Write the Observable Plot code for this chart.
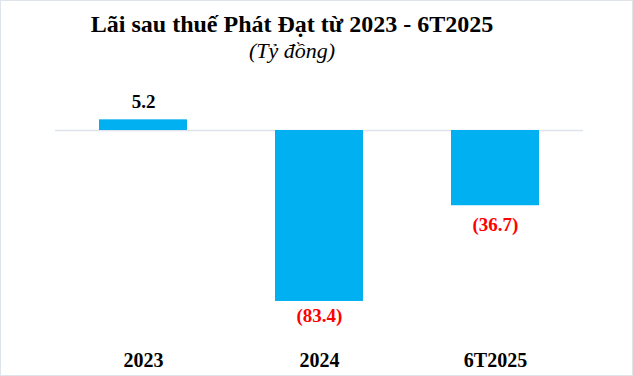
<!DOCTYPE html>
<html>
<head>
<meta charset="utf-8">
<script src="https://cdn.jsdelivr.net/npm/d3@7"></script>
<script src="https://cdn.jsdelivr.net/npm/@observablehq/plot@0.6"></script>
<style>
  html, body { margin: 0; padding: 0; background: #fff; }
  #wrap { position: relative; width: 633px; height: 376px; box-sizing: border-box; border: 1px solid #dfe3ea; overflow: hidden; font-family: "Liberation Serif", Tinos, "Times New Roman", "DejaVu Serif", serif; }
  #head { height: 71px; position: relative; }
  #title { position: absolute; left: 0; width: 582px; top: 9px; text-align: center; font-weight: bold; font-size: 24px; line-height: 28px; color: #000; }
  #sub { position: absolute; left: 0; width: 582px; top: 37px; text-align: center; font-style: italic; font-size: 22px; line-height: 26px; color: #000; }
  svg { display: block; }
  svg text { font-family: "Liberation Serif", Tinos, "Times New Roman", "DejaVu Serif", serif; }
</style>
</head>
<body>
<div id="wrap">
  <div id="head">
    <div id="title">Lãi sau thuế Phát Đạt từ 2023 - 6T2025</div>
    <div id="sub">(Tỷ đồng)</div>
  </div>
  <div id="chart"></div>
</div>
<script>
const categories = ["2023", "2024", "6T2025"];
const values = [5.2, -83.4, -36.7];
const labels = ["5.2", "(83.4)", "(36.7)"];

const data = categories.map((c, i) => ({cat: c, value: values[i], label: labels[i]}));
const labelOffsets = [-18, 14, 19];

const chart = Plot.plot({
  width: 631,
  height: 304,
  marginLeft: 54,
  marginRight: 49,
  marginTop: 37.5,
  marginBottom: 61.5,
  style: {fontFamily: "'Liberation Serif', Tinos, 'Times New Roman', 'DejaVu Serif', serif", background: "transparent"},
  x: {domain: categories, paddingInner: 0.5, paddingOuter: 0.25, label: null},
  y: {domain: [-90, 10], axis: null},
  marks: [
    Plot.ruleY([0], {stroke: "#dde3ea", strokeWidth: 1.5}),
    Plot.barY(data, {x: "cat", y: "value", fill: "#00B0F0"}),
    ...data.map((d, i) => Plot.text([d], {
      x: "cat", y: "value", text: "label",
      dy: labelOffsets[i], lineAnchor: "middle",
      fill: d.value < 0 ? "#FF0000" : "#000000",
      fontWeight: "bold", fontSize: 19
    })),
    Plot.axisX({tickSize: 0, tickPadding: 38, fontSize: 20, fontWeight: "bold", fill: "#000", label: null})
  ]
});
document.getElementById("chart").appendChild(chart);
</script>
</body>
</html>
